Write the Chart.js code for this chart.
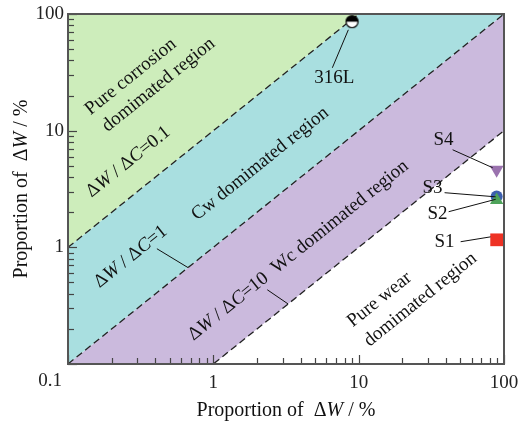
<!DOCTYPE html>
<html>
<head>
<meta charset="utf-8">
<script src="https://cdn.jsdelivr.net/npm/chart.js@4/dist/chart.umd.min.js"></script>
<style>
  html, body { margin: 0; padding: 0; background: #fff; }
  #wrap { width: 520px; height: 421px; }
</style>
</head>
<body>
<div id="wrap"><canvas id="c"></canvas></div>
<script>
// Region boundaries: straight lines in log-log space for ΔW/ΔC = 0.1, 1 and 10
const boundaryX = [0.1, 100];
const boundaryY_r01 = [1, 1000];
const boundaryY_r1 = [0.1, 100];
const boundaryY_r10 = [0.01, 10];

// Measured samples
const sampleNames = ['316L', 'S1', 'S2', 'S3', 'S4'];
const sampleX = [9, 89, 89, 89, 89];
const sampleY = [86, 1.16, 2.54, 2.73, 4.62];

// Axis ticks
const majorTicks = [0.1, 1, 10, 100];
const minorSteps = [2, 3, 4, 5, 6, 7, 8, 9];

const FONT = '"Liberation Serif", "Times New Roman", serif';
const FS = 19;
const FS_TITLE = 20;

const allTicks = majorTicks.concat(
  majorTicks.slice(0, -1).flatMap(d => minorSteps.map(k => d * k))
).sort((a, b) => a - b);

function pts(xs, ys) { return xs.map((x, i) => ({ x, y: ys[i] })); }

// Half black / half white disc used for 316L
function halfDisc(r) {
  const s = 2 * r + 3, m = s / 2;
  const c = document.createElement('canvas');
  c.width = s; c.height = s;
  const g = c.getContext('2d');
  g.beginPath(); g.arc(m, m, r, 0, 2 * Math.PI); g.fillStyle = '#fff'; g.fill();
  g.beginPath(); g.arc(m, m, r, Math.PI, 2 * Math.PI); g.closePath(); g.fillStyle = '#000'; g.fill();
  g.beginPath(); g.arc(m, m, r, 0, 2 * Math.PI); g.lineWidth = 1.2; g.strokeStyle = '#000'; g.stroke();
  return c;
}

// Text layout (data coordinates), '*' toggles italic
const regionLabels = [
  { text: 'Pure corrosion', x: 0.27, y: 29 },
  { text: 'domimated region', x: 0.42, y: 24.7 },
  { text: 'Δ*W* / Δ*C*=0.1', x: 0.26, y: 5.4 },
  { text: 'Δ*W* / Δ*C*=1', x: 0.27, y: 0.83 },
  { text: 'Cw domimated region', x: 2.1, y: 5.2 },
  { text: 'Δ*W* / Δ*C*=10  Wc domimated region', x: 3.84, y: 0.94 },
  { text: 'Pure wear', x: 13.9, y: 0.356 },
  { text: 'domimated region', x: 26.6, y: 0.356 }
];
const leaders = [
  [0.409, 0.973, 0.67, 0.67],
  [2.35, 0.433, 3.27, 0.327],
  [6.59, 34.6, 8.49, 73.2],
  [44.3, 6.86, 83.6, 4.81],
  [39.0, 2.94, 87.7, 2.71],
  [41.6, 2.02, 87.7, 2.58],
  [50.3, 1.117, 80.9, 1.23]
];
const sampleLabelPos = {
  '316L': [6.8, 28.4], 'S4': [38.4, 8.36], 'S3': [32.2, 3.24], 'S2': [34.9, 1.94], 'S1': [39.0, 1.117]
};

function drawRich(ctx, str, cx, cy, angle, size) {
  const parts = str.split('*');
  const fonts = parts.map((p, i) => (i % 2 ? 'italic ' : '') + size + 'px ' + FONT);
  let total = 0;
  const widths = parts.map((p, i) => { ctx.font = fonts[i]; const w = ctx.measureText(p).width; total += w; return w; });
  ctx.save();
  ctx.translate(cx, cy);
  ctx.rotate(angle);
  ctx.textBaseline = 'middle';
  ctx.textAlign = 'left';
  ctx.fillStyle = '#111';
  let x = -total / 2;
  parts.forEach((p, i) => { ctx.font = fonts[i]; ctx.fillText(p, x, 0); x += widths[i]; });
  ctx.restore();
}

const decor = {
  id: 'decor',
  afterDatasetsDraw(chart) {
    const { ctx, scales: { x, y } } = chart;
    const angle = Math.atan2(y.getPixelForValue(10) - y.getPixelForValue(1),
                             x.getPixelForValue(10) - x.getPixelForValue(1));
    // leader lines
    ctx.save();
    ctx.strokeStyle = '#111';
    ctx.lineWidth = 1;
    leaders.forEach(([x1, y1, x2, y2]) => {
      ctx.beginPath();
      ctx.moveTo(x.getPixelForValue(x1), y.getPixelForValue(y1));
      ctx.lineTo(x.getPixelForValue(x2), y.getPixelForValue(y2));
      ctx.stroke();
    });
    ctx.restore();
    regionLabels.forEach(l => drawRich(ctx, l.text, x.getPixelForValue(l.x), y.getPixelForValue(l.y), angle, FS));
    sampleNames.forEach(n => {
      const p = sampleLabelPos[n];
      drawRich(ctx, n, x.getPixelForValue(p[0]), y.getPixelForValue(p[1]), 0, FS);
    });
  },
  afterDraw(chart) {
    const { ctx, chartArea: a, scales: { x, y } } = chart;
    ctx.save();
    // inward tick marks on left and bottom axes
    ctx.strokeStyle = '#444';
    ctx.lineWidth = 1.2;
    y.ticks.forEach(t => {
      const len = majorTicks.includes(t.value) ? 9 : 6;
      const py = Math.round(y.getPixelForValue(t.value)) + 0.5;
      ctx.beginPath(); ctx.moveTo(a.left, py); ctx.lineTo(a.left + len, py); ctx.stroke();
    });
    x.ticks.forEach(t => {
      const len = majorTicks.includes(t.value) ? 9 : 6;
      const px = Math.round(x.getPixelForValue(t.value)) + 0.5;
      ctx.beginPath(); ctx.moveTo(px, a.bottom); ctx.lineTo(px, a.bottom - len); ctx.stroke();
    });
    // frame
    ctx.strokeStyle = '#555';
    ctx.lineWidth = 2;
    ctx.strokeRect(a.left, a.top, a.right - a.left, a.bottom - a.top);
    ctx.restore();
    // shared origin label
    ctx.save();
    ctx.font = FS + 'px ' + FONT;
    ctx.fillStyle = '#222';
    ctx.textAlign = 'center';
    ctx.textBaseline = 'middle';
    ctx.fillText('0.1', a.left - 18, a.bottom + 17);
    ctx.restore();
    // axis titles
    const title = 'Proportion of  Δ*W* / %';
    drawRich(ctx, title, (a.left + a.right) / 2, a.bottom + 47, 0, FS_TITLE);
    drawRich(ctx, title, 22, (a.top + a.bottom) / 2, -Math.PI / 2, FS_TITLE);
  }
};

const tickLabel = v => (majorTicks.includes(v) && v !== 0.1) ? String(v) : '';

new Chart(document.getElementById('c'), {
  type: 'line',
  data: {
    datasets: [
      { label: 'ΔW/ΔC=0.1', data: pts(boundaryX, boundaryY_r01), fill: 'end',
        backgroundColor: '#cdedbb', borderColor: '#222', borderWidth: 1.3, borderDash: [7, 4],
        pointRadius: 0, order: 5 },
      { label: 'ΔW/ΔC=1', data: pts(boundaryX, boundaryY_r1), fill: '-1',
        backgroundColor: '#a9dfe0', borderColor: '#222', borderWidth: 1.3, borderDash: [7, 4],
        pointRadius: 0, order: 5 },
      { label: 'ΔW/ΔC=10', data: pts(boundaryX, boundaryY_r10), fill: '-1',
        backgroundColor: '#cbbadd', borderColor: '#222', borderWidth: 1.3, borderDash: [7, 4],
        pointRadius: 0, order: 5 },
      { label: sampleNames[0], data: [{ x: sampleX[0], y: sampleY[0] }], showLine: false,
        pointStyle: halfDisc(6), pointRadius: 6, clip: false, order: 0 },
      { label: sampleNames[1], data: [{ x: sampleX[1], y: sampleY[1] }], showLine: false,
        pointStyle: 'rect', pointRadius: 9, backgroundColor: '#ee3224', borderColor: '#ee3224',
        borderWidth: 0, clip: false, order: 0 },
      { label: sampleNames[2], data: [{ x: sampleX[2], y: sampleY[2] }], showLine: false,
        pointStyle: 'triangle', pointRadius: 7.7, backgroundColor: '#4ea35a', borderColor: '#4ea35a',
        borderWidth: 0, clip: false, order: 0 },
      { label: sampleNames[3], data: [{ x: sampleX[3], y: sampleY[3] }], showLine: false,
        pointStyle: 'circle', pointRadius: 6, backgroundColor: '#3d5fae', borderColor: '#3d5fae',
        borderWidth: 0, clip: false, order: 1 },
      { label: sampleNames[4], data: [{ x: sampleX[4], y: sampleY[4] }], showLine: false,
        pointStyle: 'triangle', rotation: 180, pointRadius: 8, backgroundColor: '#9a72ae', borderColor: '#9a72ae',
        borderWidth: 0, clip: false, order: 0 }
    ]
  },
  options: {
    responsive: true,
    maintainAspectRatio: false,
    animation: false,
    layout: { padding: { top: 14, right: 16, left: 0, bottom: 0 } },
    plugins: { legend: { display: false }, tooltip: { enabled: false } },
    scales: {
      x: {
        type: 'logarithmic', min: 0.1, max: 100,
        afterBuildTicks: s => { s.ticks = allTicks.map(v => ({ value: v })); },
        afterFit: s => { s.height = 57; s.paddingLeft = 0; s.paddingRight = 0; },
        grid: { display: false, drawTicks: false },
        border: { display: false },
        ticks: { autoSkip: false, maxRotation: 0, padding: 8, color: '#222',
                 font: { family: FONT, size: FS }, callback: tickLabel }
      },
      y: {
        type: 'logarithmic', min: 0.1, max: 100,
        afterBuildTicks: s => { s.ticks = allTicks.map(v => ({ value: v })); },
        afterFit: s => { s.width = 68; s.paddingTop = 0; s.paddingBottom = 0; },
        grid: { display: false, drawTicks: false },
        border: { display: false },
        ticks: { autoSkip: false, padding: 4, color: '#222',
                 font: { family: FONT, size: FS }, callback: tickLabel }
      }
    }
  },
  plugins: [decor]
});
</script>
</body>
</html>
